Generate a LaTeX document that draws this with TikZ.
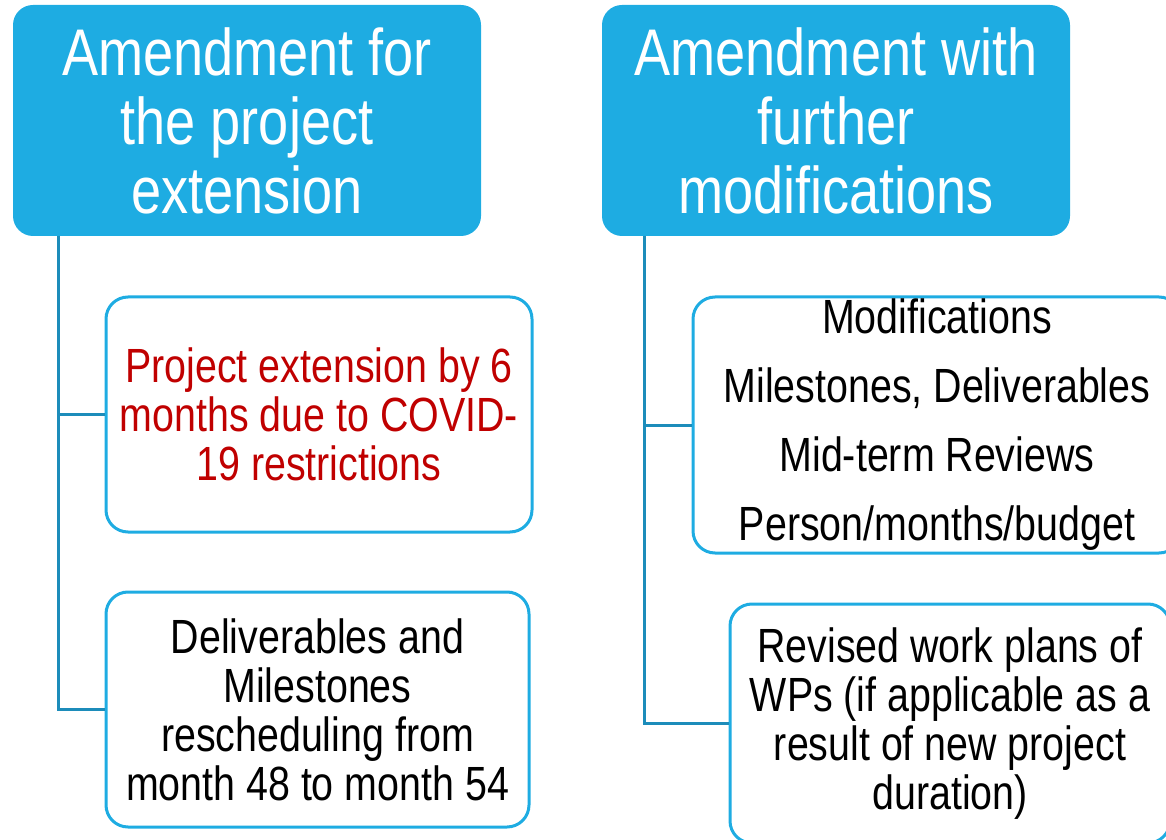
\documentclass[tikz,border=0pt]{standalone}
\usepackage{fontspec}
\setmainfont[FakeStretch=0.82]{Liberation Sans}
\definecolor{boxblue}{RGB}{30,172,226}
\definecolor{lineblue}{RGB}{28,140,186}
\definecolor{darkred}{RGB}{192,0,0}

\begin{document}
\begin{tikzpicture}[x=1pt,y=1pt,
  hdr/.style={fill=boxblue,rounded corners=20pt,text=white,align=center,inner sep=0pt,minimum width=468pt,minimum height=231pt,font=\fontsize{66}{69}\selectfont},
  item/.style={draw=boxblue,line width=3pt,fill=white,rounded corners=22pt,align=center,inner sep=0pt,font=\fontsize{48}{49}\selectfont},
  link/.style={draw=lineblue,line width=3pt}]
\useasboundingbox (0,0) rectangle (1166,839);
% headers
\node[hdr] (extHdr) at (247,718.5) {Amendment for\\the project\\extension};
\node[hdr] (modHdr) at (836,718.5) {Amendment with\\further\\modifications};
% left column
\node[item,minimum width=426pt,minimum height=235pt,text=darkred] (extBox) at (319,424.5) {Project extension by 6\\months due to COVID-\\19 restrictions};
\node[item,minimum width=423pt,minimum height=235pt] (delBox) at (317.5,129.5) {Deliverables and\\Milestones\\rescheduling from\\month 48 to month 54};
% right column
\node[item,minimum width=488pt,minimum height=256pt,font=\fontsize{48}{69}\selectfont] (modBox) at (937,414) {Modifications\\Milestones, Deliverables\\Mid-term Reviews\\Person/months/budget};
\node[item,minimum width=440pt,minimum height=239pt] (wpBox) at (950,115.5) {Revised work plans of\\WPs (if applicable as a\\result of new project\\duration)};
% connectors
\draw[link] ([xshift=46pt]extHdr.south west) |- (extBox.west);
\draw[link] ([xshift=46pt]extHdr.south west) |- (delBox.west);
\draw[link] ([xshift=43pt]modHdr.south west) |- (modBox.west);
\draw[link] ([xshift=43pt]modHdr.south west) |- (wpBox.west);
\end{tikzpicture}
\end{document}
